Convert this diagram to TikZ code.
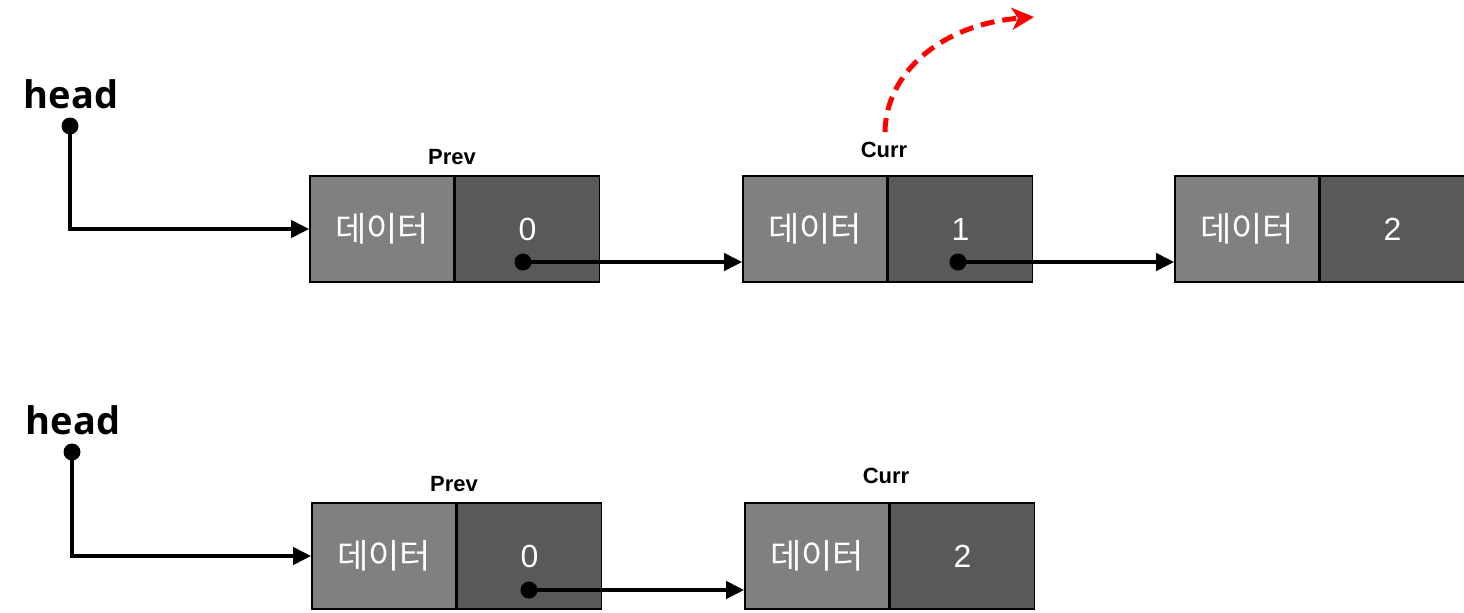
\documentclass[tikz,border=0pt]{standalone}
\usepackage{fontspec}
\setmainfont{Liberation Sans}
\newfontfamily\krfont{Noto Sans CJK KR}
\newfontfamily\headfont{Open Sans}
\usepackage{tikz}
\usetikzlibrary{arrows.meta, positioning}
\definecolor{cellgray}{RGB}{128,128,128}
\definecolor{ptrgray}{RGB}{89,89,89}

\begin{document}
\begin{tikzpicture}[
  x=0.5pt, y=-0.5pt,
  datacell/.style={draw=black, line width=0.8pt, fill=cellgray, text=white,
                   minimum width=72pt, minimum height=53pt, inner sep=0pt,
                   font=\krfont\fontsize{17}{17}\selectfont},
  ptrcell/.style={datacell, fill=ptrgray, font=\fontsize{16}{16}\selectfont},
  tag/.style={font=\bfseries\fontsize{11}{11}\selectfont},
  headlbl/.style={font=\headfont\bfseries\fontsize{19}{19}\selectfont},
  dot/.style={circle, fill=black, inner sep=0pt, minimum size=8.5pt},
  link/.style={-{Triangle[length=9pt,width=8.5pt]}, line width=2pt},
  move/.style={-{Stealth[length=11pt,width=11pt,inset=3pt]}, red, line width=2.5pt,
               dash pattern=on 7pt off 4pt}
]
  \useasboundingbox (0,0) rectangle (1464,612);

  % before the removal
  \node[headlbl] (h0) at (71,94) {head};
  \node[dot] (hd0) at (70,126) {};
  \node[datacell] (d0) at (382,229) {데이터};
  \node[ptrcell, right=0pt of d0] (p0) {0};
  \node[datacell] (d1) at (815,229) {데이터};
  \node[ptrcell, right=0pt of d1] (p1) {1};
  \node[datacell] (d2) at (1247,229) {데이터};
  \node[ptrcell, right=0pt of d2] (p2) {2};
  \node[tag] (prev0) at (452,157) {Prev};
  \node[tag] (curr0) at (884,150) {Curr};
  \node[dot] (q0) at (523,262) {};
  \node[dot] (q1) at (958,262) {};

  \draw[link] (hd0.center) |- (d0.west);
  \draw[link] (q0.center) -- (d1.west |- q0);
  \draw[link] (q1.center) -- (d2.west |- q1);

  \coordinate (mvS) at (885,132);
  \coordinate (mvE) at (1034,17);
  \draw[move] (mvS) .. controls (886,70) and (945,24) .. (mvE);

  % after the removal
  \node[headlbl] (h1) at (73,420) {head};
  \node[dot] (hd1) at (72,452) {};
  \node[datacell] (e0) at (384,556) {데이터};
  \node[ptrcell, right=0pt of e0] (r0) {0};
  \node[datacell] (e1) at (817,556) {데이터};
  \node[ptrcell, right=0pt of e1] (r1) {2};
  \node[tag] (prev1) at (454,484) {Prev};
  \node[tag] (curr1) at (886,476) {Curr};
  \node[dot] (s0) at (529,590) {};

  \draw[link] (hd1.center) |- (e0.west);
  \draw[link] (s0.center) -- (e1.west |- s0);
\end{tikzpicture}
\end{document}
